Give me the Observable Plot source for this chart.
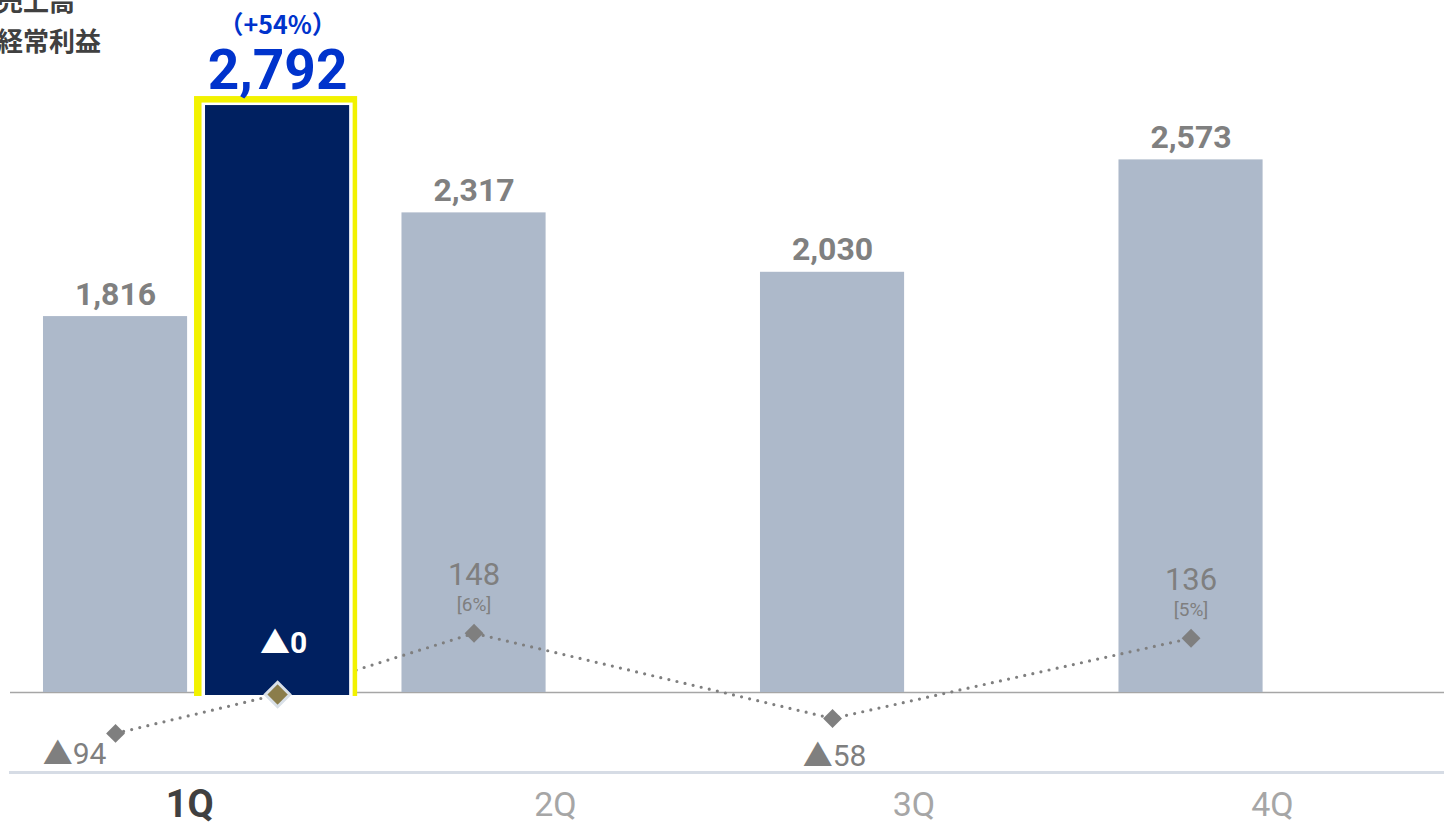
<!DOCTYPE html>
<html><head><meta charset="utf-8">
<script src="https://cdn.jsdelivr.net/npm/d3@7"></script>
<script src="https://cdn.jsdelivr.net/npm/@observablehq/plot@0.6"></script>
<style>
body{margin:0;background:#fff;overflow:hidden}
#wrap{position:relative;width:1444px;height:826px}
#legend{position:absolute;left:-3px;top:-20px;z-index:2;font-family:"Noto Sans CJK JP",sans-serif;font-weight:700;font-size:26px;line-height:40px;color:#404040}
</style></head><body>
<div id="wrap"><div id="legend"><div>売上高</div><div>経常利益</div></div></div>
<script>
// ---- data ----
const quarters = ["1Q", "2Q", "3Q", "4Q"];
const salesPrev = [1816, 2317, 2030, 2573];   // previous year
const salesCurr = [2792];                     // current year (1Q only)
const profitPrev = [-94, 148, -58, 136];
const profitCurr = [0];
const marginPrev = [null, "6%", null, "5%"];
const growthCurr = ["+54%"];

// ---- layout constants (fractions of a quarter group) ----
const PAD = 0.092, STEP = 0.452, BW = 0.402, PROFIT_K = 2;

const bars = [];
quarters.forEach((q, i) => {
  bars.push({q, i, period: "prev", sales: salesPrev[i], profit: profitPrev[i], margin: marginPrev[i],
             x1: i + PAD, x2: i + PAD + BW, xc: i + PAD + BW / 2});
  if (i < salesCurr.length) {
    bars.push({q, i, period: "curr", sales: salesCurr[i], profit: profitCurr[i], growth: growthCurr[i],
               x1: i + PAD + STEP, x2: i + PAD + STEP + BW, xc: i + PAD + STEP + BW / 2});
  }
});
const prev = bars.filter(d => d.period === "prev");
const curr = bars.filter(d => d.period === "curr");
const py = d => d.profit * PROFIT_K;
const fmt = v => v <= 0 ? "▲" + Math.abs(v) : String(v);
const comma = d3.format(",");
const NUM = "Roboto, 'Noto Sans CJK JP', sans-serif";
const qLabels = quarters.map((q, i) => ({q, i}));
const rectOpts = {x1: "x1", x2: "x2", y1: () => 0, y2: "sales"};

const chart = Plot.plot({
  width: 1444, height: 826,
  marginLeft: 10, marginRight: 0, marginTop: 0, marginBottom: 54,
  x: {type: "linear", domain: [0, 4], axis: null},
  y: {domain: [-386.5, 3343], axis: null},
  style: {fontFamily: NUM, background: "transparent", overflow: "visible"},
  marks: [
    Plot.ruleY([0], {stroke: "#a6a6a6", strokeWidth: 1.5}),
    Plot.frame({anchor: "bottom", stroke: "#d6dce5", strokeWidth: 3}),
    Plot.rect(prev, {...rectOpts, fill: "#adb9ca"}),
    Plot.line(bars, {x: "xc", y: py, dy: 2, stroke: "#7f7f7f", strokeWidth: 3.2,
                     strokeDasharray: "0 8.3", strokeLinecap: "round"}),
    Plot.rect(curr, {...rectOpts, fill: "#f2f200", insetLeft: -11, insetRight: -8, insetTop: -18, insetBottom: -4}),
    Plot.rect(curr, {...rectOpts, fill: "#ffffff", insetLeft: -3.5, insetRight: -3.5, insetTop: -11.5, insetBottom: -4}),
    Plot.rect(curr, {...rectOpts, fill: "#002060", insetTop: -9, insetBottom: -3}),
    Plot.dot(prev, {x: "xc", y: py, dy: 2, symbol: "diamond2", r: 8.5, fill: "#7f7f7f"}),
    Plot.dot(curr, {x: "xc", y: py, dy: 2, symbol: "diamond2", r: 11, fill: "#8b7d4b", stroke: "#d9e0e8", strokeWidth: 3}),
    // sales labels
    Plot.text(prev, {x: "xc", y: "sales", text: d => comma(d.sales), dy: -12, lineAnchor: "bottom",
                     fontSize: 32, fontWeight: 700, fill: "#808080"}),
    Plot.text(curr, {x: "xc", y: "sales", text: d => comma(d.sales), dy: -26, lineAnchor: "bottom",
                     fontSize: 55, fontWeight: 700, fill: "#0033cc"}),
    Plot.text(curr, {x: "xc", y: "sales", text: d => "（" + d.growth + "）", dy: -81, lineAnchor: "bottom",
                     fontSize: 25, fontWeight: 700, fill: "#0033cc", fontFamily: "'Noto Sans CJK JP', sans-serif"}),
    // profit labels
    Plot.text(prev.filter(d => d.profit < 0 && d.i === 0), {x: "xc", frameAnchor: "bottom", text: d => fmt(d.profit),
                     dx: -41, dy: -9, lineAnchor: "bottom", fontSize: 30, fill: "#7f7f7f"}),
    Plot.text(prev.filter(d => d.profit < 0 && d.i !== 0), {x: "xc", frameAnchor: "bottom", text: d => fmt(d.profit),
                     dx: 2, dy: -7, lineAnchor: "bottom", fontSize: 30, fill: "#7f7f7f"}),
    Plot.text(prev.filter(d => d.profit > 0), {x: "xc", y: py, text: d => fmt(d.profit), dy: -46, lineAnchor: "bottom",
                     fontSize: 31, fill: "#7f7f7f"}),
    Plot.text(prev.filter(d => d.margin), {x: "xc", y: py, text: d => "[" + d.margin + "]", dy: -20, lineAnchor: "bottom",
                     fontSize: 19, fill: "#7f7f7f"}),
    Plot.text(curr, {x: "xc", y: py, text: d => fmt(d.profit), dx: 6, dy: -39, lineAnchor: "bottom",
                     fontSize: 30, fontWeight: 700, fill: "#ffffff"}),
    // quarter labels
    Plot.text(qLabels.filter(d => d.i === 0), {x: d => d.i + 0.5, frameAnchor: "bottom", text: "q", dy: 44,
                     lineAnchor: "bottom", fontSize: 38, fontWeight: 700, fill: "#404040"}),
    Plot.text(qLabels.filter(d => d.i > 0), {x: d => d.i + 0.52, frameAnchor: "bottom", text: "q", dy: 43,
                     lineAnchor: "bottom", fontSize: 34, fill: "#a6a6a6"})
  ]
});
document.getElementById("wrap").appendChild(chart);
</script>
</body></html>
